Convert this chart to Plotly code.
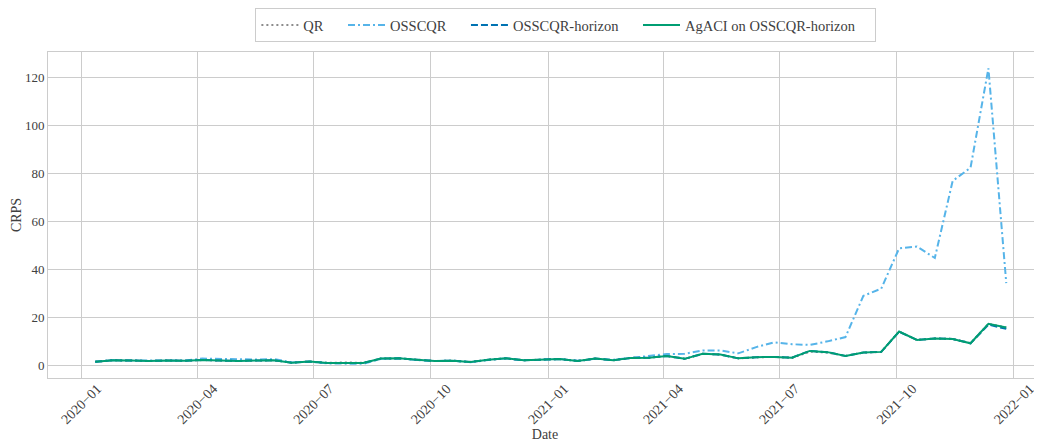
import pandas as pd
import plotly.graph_objects as go

# biweekly evaluation dates
dates = pd.date_range("2020-01-12", periods=52, freq="14D")

agaci = [1.5, 2.1, 2.0, 1.8, 2.0, 1.9, 2.2, 2.0, 1.8, 2.0, 2.1, 1.1, 1.6, 1.0, 1.1, 1.0,
         2.8, 2.9, 2.3, 1.8, 1.9, 1.4, 2.3, 2.9, 2.1, 2.5, 2.6, 1.8, 2.8, 2.1, 3.1, 3.2,
         3.9, 2.7, 4.8, 4.5, 2.9, 3.4, 3.5, 3.2, 6.0, 5.5, 3.9, 5.3, 5.6, 14.1, 10.6, 11.2,
         11.0, 9.2, 17.3, 15.8]
horizon = [1.5, 2.1, 2.0, 1.8, 2.0, 1.9, 2.2, 2.0, 1.8, 2.0, 2.1, 1.1, 1.6, 1.0, 1.1, 1.0,
           2.8, 2.9, 2.3, 1.8, 1.9, 1.4, 2.3, 2.9, 2.1, 2.5, 2.6, 1.8, 2.8, 2.1, 3.1, 3.2,
           3.9, 2.7, 4.8, 4.5, 2.9, 3.4, 3.5, 3.2, 6.0, 5.5, 3.9, 5.3, 5.6, 14.0, 10.6, 11.2,
           11.0, 9.2, 17.0, 15.2]
qr = [1.5, 2.1, 2.0, 1.8, 2.0, 1.9, 2.2, 2.0, 1.8, 2.0, 2.1, 1.1, 1.6, 1.0, 1.2, 1.0,
      2.8, 2.9, 2.3, 1.8, 1.9, 1.4, 2.3, 2.9, 2.1, 2.5, 2.6, 1.8, 2.8, 2.1, 3.1, 3.2,
      3.9, 2.7, 4.8, 4.5, 2.9, 3.3, 3.5, 3.1, 5.7, 5.3, 3.9, 5.3, 5.6, 14.1, 10.6, 11.2,
      11.0, 9.2, 17.3, 15.8]
osscqr = [1.5, 2.2, 2.0, 1.9, 2.1, 2.0, 2.8, 2.7, 2.3, 2.4, 2.6, 1.2, 1.5, 0.8, 0.7, 0.6,
          2.7, 2.9, 2.2, 1.8, 1.9, 1.3, 2.2, 2.9, 2.1, 2.5, 2.6, 1.9, 2.7, 2.3, 3.1, 3.6,
          4.7, 4.8, 6.2, 6.2, 5.0, 7.6, 9.6, 8.8, 8.5, 10.0, 11.8, 29.0, 32.0, 48.8, 49.6, 44.8,
          77.0, 82.5, 124.0, 34.3]

series = [
    ("QR", qr, "#8c8c8c", "2px,3px"),
    ("OSSCQR", osscqr, "#56B4E9", "7px,3px,2px,3px"),
    ("OSSCQR-horizon", horizon, "#0072B2", "7px,3px"),
    ("AgACI on OSSCQR-horizon", agaci, "#009E73", "solid"),
]

FONT = "Liberation Serif"
GRID = "#cccccc"
TEXT = "#404040"

fig = go.Figure()
for name, values, color, dash in series:
    fig.add_trace(go.Scatter(x=dates, y=values, mode="lines", name=name + "\u2003",
                             line={"color": color, "width": 2, "dash": dash}))

# the page body adds an 8px offset, so the figure is drawn 8px smaller
fig.update_layout(
    width=1034,
    height=439,
    paper_bgcolor="#FFFFFF",
    plot_bgcolor="#FFFFFF",
    font={"family": FONT, "size": 13, "color": TEXT},
    margin={"l": 40, "r": 0, "t": 44, "b": 69},
    showlegend=True,
    legend={
        "orientation": "h",
        "x": 0.521,
        "xanchor": "center",
        "y": 1.0,
        "yanchor": "top",
        "yref": "container",
        "itemwidth": 37,
        "bordercolor": GRID,
        "borderwidth": 1,
        "font": {"size": 14.5, "family": FONT, "color": TEXT},
    },
)

fig.update_xaxes(
    range=["2019-12-06", "2022-01-23"],
    tick0="2020-01-01",
    dtick="M3",
    tickformat="%Y\u2212%m",
    tickangle=-45,
    ticklabelshift=16,
    ticklabelstandoff=-4,
    tickfont={"size": 14},
    automargin=False,
    showgrid=True,
    gridcolor=GRID,
    gridwidth=1,
    showline=True,
    linecolor=GRID,
    mirror=True,
    zeroline=False,
    ticks="",
    title={"text": "Date", "standoff": 0, "font": {"size": 14}},
)
fig.update_yaxes(
    range=[-5.3, 130.8],
    dtick=20,
    automargin=False,
    showgrid=True,
    gridcolor=GRID,
    gridwidth=1,
    showline=True,
    linecolor=GRID,
    zeroline=False,
    ticks="",
    title={"text": "CRPS", "standoff": 0, "font": {"size": 14}},
)

fig.write_html("out.html")
